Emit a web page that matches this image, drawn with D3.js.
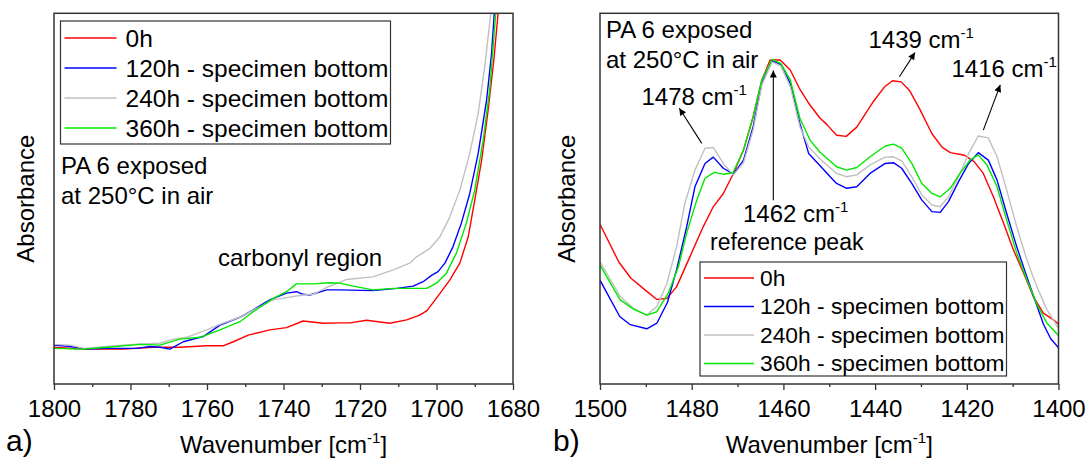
<!DOCTYPE html>
<html>
<head>
<meta charset="utf-8">
<script src="https://cdn.jsdelivr.net/npm/d3@7"></script>
<style>
  html, body { margin: 0; padding: 0; background: #fff; }
  svg { display: block; font-family: "Liberation Sans", Arial, Helvetica, sans-serif; }
</style>
</head>
<body>
<svg id="chart" width="1088" height="460"></svg>
<script>
// ---------- data: FTIR absorbance (arbitrary units), [wavenumber, absorbance] ----------
const seriesLabels = ["0h", "120h - specimen bottom", "240h - specimen bottom", "360h - specimen bottom"];

// a) carbonyl region, 1800-1680 cm-1
const carbonyl0h = [[1800,0.099],[1792.3,0.094],[1781.9,0.094],[1774.1,0.099],[1767.1,0.099],[1760.1,0.103],[1755.8,0.103],[1753.1,0.114],[1749.2,0.132],[1743.6,0.146],[1739.2,0.152],[1734.9,0.170],[1729.6,0.164],[1725.3,0.165],[1722.6,0.165],[1718.3,0.172],[1712.2,0.164],[1707.8,0.173],[1704.4,0.186],[1702.5,0.198],[1700.2,0.229],[1696.5,0.281],[1693.9,0.326],[1691.7,0.397],[1690,0.496],[1688.2,0.604],[1686.5,0.739],[1685,0.874],[1683.9,1.0],[1683,1.1]];
const carbonyl120h = [[1800,0.105],[1795.8,0.101],[1791.5,0.094],[1786.2,0.096],[1778.4,0.096],[1774.9,0.101],[1772.3,0.099],[1769.7,0.094],[1766.2,0.114],[1761,0.128],[1756.6,0.159],[1751.4,0.180],[1747.9,0.200],[1743.6,0.227],[1739.2,0.245],[1736.6,0.249],[1734.9,0.242],[1733.1,0.240],[1728.7,0.254],[1725.3,0.254],[1716.6,0.252],[1710.4,0.258],[1706.1,0.264],[1703.5,0.276],[1701.3,0.293],[1699.6,0.303],[1697.8,0.326],[1695.7,0.370],[1693.5,0.434],[1691.3,0.514],[1689.1,0.622],[1686.9,0.766],[1685.6,0.892],[1684.9,1.0],[1684,1.1]];
const carbonyl240h = [[1800,0.107],[1795.8,0.105],[1792.3,0.096],[1786.2,0.101],[1777.5,0.108],[1772.3,0.110],[1768.8,0.121],[1765.3,0.126],[1760.1,0.146],[1755.8,0.164],[1751.4,0.180],[1747,0.204],[1742.7,0.227],[1739.2,0.233],[1734.9,0.240],[1732.2,0.242],[1728.7,0.261],[1725.3,0.274],[1723.5,0.282],[1716.6,0.289],[1711.3,0.308],[1707,0.326],[1705.2,0.343],[1701.7,0.366],[1699.1,0.397],[1696.5,0.451],[1693.9,0.523],[1691.3,0.622],[1689.1,0.730],[1687.4,0.856],[1685.8,1.0],[1685,1.1]];
const carbonyl360h = [[1800,0.096],[1792.3,0.094],[1786.2,0.099],[1777.5,0.107],[1772.3,0.105],[1767.1,0.121],[1761.8,0.126],[1756.6,0.146],[1751.4,0.168],[1747.9,0.195],[1742.7,0.231],[1739.2,0.249],[1736.6,0.270],[1732.2,0.270],[1727.9,0.273],[1725.3,0.272],[1721.8,0.264],[1716.6,0.254],[1711.3,0.258],[1702.6,0.258],[1700,0.272],[1697.4,0.299],[1694.8,0.353],[1692.2,0.434],[1690,0.523],[1687.8,0.658],[1686.1,0.793],[1684.5,1.0],[1683.5,1.1]];

// b) CH2 bending region, 1500-1400 cm-1
const bending0h = [[1500,0.431],[1495.9,0.329],[1493.3,0.286],[1490.2,0.254],[1487.6,0.228],[1485.4,0.231],[1483.3,0.262],[1480.4,0.343],[1477.5,0.424],[1475.3,0.478],[1473.1,0.514],[1470.9,0.568],[1468.7,0.631],[1466.6,0.721],[1464.7,0.820],[1462.9,0.874],[1460.7,0.874],[1458.5,0.847],[1456.5,0.797],[1454.3,0.754],[1452,0.717],[1450.6,0.701],[1448.4,0.671],[1446.3,0.668],[1444,0.693],[1440.5,0.760],[1437.9,0.802],[1436.2,0.818],[1434.3,0.815],[1432.5,0.792],[1430.2,0.740],[1427.6,0.675],[1425.4,0.639],[1423.6,0.624],[1420.5,0.617],[1418.4,0.600],[1416.4,0.568],[1414.2,0.505],[1412,0.434],[1409.8,0.361],[1407.6,0.299],[1405.5,0.236],[1403.3,0.191],[1401.1,0.173],[1400,0.162]];
const bending120h = [[1500,0.280],[1495.7,0.182],[1493.4,0.160],[1489.8,0.149],[1487.6,0.164],[1485.3,0.220],[1483.3,0.308],[1481.1,0.424],[1479.3,0.532],[1477.1,0.595],[1475.3,0.612],[1473.1,0.582],[1470.9,0.566],[1468.7,0.604],[1466.6,0.694],[1464.7,0.811],[1462.5,0.872],[1460.4,0.861],[1458.5,0.811],[1456.4,0.703],[1454.5,0.622],[1452,0.589],[1449.8,0.559],[1448.4,0.541],[1446.2,0.528],[1444,0.532],[1441.1,0.568],[1437.8,0.595],[1436,0.597],[1434.2,0.582],[1432,0.541],[1429.8,0.496],[1427.6,0.465],[1425.8,0.463],[1424,0.492],[1421.8,0.546],[1419.6,0.595],[1417.5,0.624],[1415.3,0.604],[1413.4,0.550],[1411.3,0.460],[1409.1,0.370],[1406.9,0.289],[1405.1,0.225],[1403.3,0.162],[1401.7,0.122],[1400,0.098]];
const bending240h = [[1500,0.330],[1495.6,0.236],[1492.7,0.204],[1489.8,0.186],[1487.6,0.209],[1485.4,0.272],[1483.3,0.370],[1481.5,0.487],[1479.3,0.577],[1477.1,0.636],[1475.3,0.638],[1473.1,0.595],[1470.9,0.564],[1468.7,0.597],[1466.6,0.685],[1464.7,0.807],[1462.5,0.869],[1460.6,0.858],[1458.5,0.802],[1456.4,0.694],[1454.5,0.640],[1452,0.607],[1448.4,0.568],[1446.2,0.559],[1444,0.564],[1441.1,0.591],[1437.8,0.612],[1436,0.613],[1434.2,0.602],[1432,0.559],[1429.8,0.510],[1427.6,0.483],[1425.8,0.478],[1424,0.505],[1421.8,0.559],[1419.6,0.622],[1417.5,0.669],[1415.3,0.664],[1413.4,0.613],[1411.3,0.523],[1409.1,0.424],[1406.9,0.335],[1404.7,0.262],[1402.5,0.200],[1400,0.150]];
const bending360h = [[1500,0.321],[1495.6,0.227],[1492.7,0.202],[1489.8,0.186],[1487.6,0.195],[1485.1,0.245],[1482.9,0.316],[1481.1,0.407],[1478.9,0.496],[1477.1,0.555],[1475.1,0.571],[1473.1,0.566],[1471,0.570],[1468.7,0.631],[1466.6,0.721],[1464.7,0.820],[1462.5,0.876],[1460.6,0.865],[1458.5,0.820],[1456.4,0.717],[1454.2,0.658],[1452,0.625],[1448.4,0.586],[1446.2,0.577],[1444,0.584],[1441.1,0.613],[1437.8,0.642],[1436,0.647],[1434.2,0.636],[1432,0.595],[1429.8,0.541],[1427.6,0.514],[1425.8,0.505],[1423.6,0.528],[1421.5,0.568],[1419.3,0.604],[1417.5,0.618],[1415.6,0.591],[1413.4,0.532],[1411.3,0.442],[1409.1,0.353],[1406.9,0.281],[1404.7,0.215],[1402.5,0.164],[1400,0.131]];

// axis ticks
const carbonylTicks = [1800, 1780, 1760, 1740, 1720, 1700, 1680];
const carbonylMinor = [1790, 1770, 1750, 1730, 1710, 1690];
const bendingTicks = [1500, 1480, 1460, 1440, 1420, 1400];
const bendingMinor = [1490, 1470, 1450, 1430, 1410];

// ---------- drawing ----------
const svg = d3.select("#chart");
const FONT = 24;
const lineColors = ["#ff0000", "#0000ff", "#c0c0c0", "#00e800"];
const ink = "#000";
const frameColor = "#333";

const defs = svg.append("defs");
defs.append("marker")
  .attr("id", "arrowhead")
  .attr("viewBox", "0 0 10 10")
  .attr("refX", 10).attr("refY", 5)
  .attr("markerUnits", "userSpaceOnUse")
  .attr("markerWidth", 10).attr("markerHeight", 7)
  .attr("orient", "auto")
  .append("path").attr("d", "M0,0 L10,5 L0,10 z").attr("fill", ink);

// text with a raised "-1" exponent; optional trailing text after it
function supText(parent, x, y, main, sup, size, tail, anchor) {
  const t = parent.append("text")
    .attr("x", x).attr("y", y)
    .attr("font-size", size)
    .attr("fill", ink)
    .attr("text-anchor", anchor || "start");
  t.append("tspan").text(main);
  const supSize = Math.round(size * 0.62);
  const lift = size * 0.42;
  t.append("tspan").attr("font-size", supSize).attr("dy", -lift).text(sup);
  if (tail) t.append("tspan").attr("font-size", size).attr("dy", lift).text(tail);
  return t;
}

function drawPanel(cfg) {
  const { left, right, top, bottom } = cfg;
  const x = d3.scaleLinear().domain(cfg.domain).range([left, right]);
  const y = d3.scaleLinear().domain([0, 1]).range([bottom, top]);
  const g = svg.append("g");

  const clipId = "clip-" + cfg.id;
  defs.append("clipPath").attr("id", clipId)
    .append("rect").attr("x", left).attr("y", top)
    .attr("width", right - left).attr("height", bottom - top);

  // spectra
  const line = d3.line().x(d => x(d[0])).y(d => y(d[1]));
  g.append("g").attr("clip-path", `url(#${clipId})`)
    .selectAll("path").data(cfg.series).join("path")
    .attr("d", line)
    .attr("fill", "none")
    .attr("stroke", (d, i) => lineColors[i])
    .attr("stroke-width", 1.4)
    .attr("stroke-linejoin", "round");

  // bottom axis: major ticks with labels, minor ticks without
  const axisMajor = g.append("g").attr("transform", `translate(0,${bottom})`)
    .call(d3.axisBottom(x).tickValues(cfg.ticks).tickSize(6).tickPadding(10)
      .tickSizeOuter(0).tickFormat(d3.format("d")));
  const axisMinor = g.append("g").attr("transform", `translate(0,${bottom})`)
    .call(d3.axisBottom(x).tickValues(cfg.minor).tickSize(3).tickSizeOuter(0).tickFormat(""));
  [axisMajor, axisMinor].forEach(a => {
    a.select(".domain").remove();
    a.selectAll(".tick line").attr("stroke", frameColor).attr("stroke-width", 1.3);
  });
  axisMajor.attr("font-family", null).attr("font-size", null);
  axisMajor.selectAll(".tick text").attr("font-size", FONT).attr("fill", ink);

  // frame
  g.append("rect")
    .attr("x", left).attr("y", top)
    .attr("width", right - left).attr("height", bottom - top)
    .attr("fill", "none").attr("stroke", frameColor).attr("stroke-width", 1.5);

  // axis titles
  g.append("text")
    .attr("transform", `translate(${cfg.yTitleX},${(top + bottom) / 2}) rotate(-90)`)
    .attr("text-anchor", "middle").attr("font-size", FONT).attr("fill", ink)
    .text("Absorbance");
  supText(g, (left + right) / 2, 453, "Wavenumber [cm", "-1", FONT, "]", "middle");

  // panel letter
  g.append("text").attr("x", cfg.letterX).attr("y", 451)
    .attr("font-size", 30).attr("fill", ink).text(cfg.letter);

  // legend
  const L = cfg.legend;
  const lg = g.append("g");
  lg.append("rect")
    .attr("x", L.x).attr("y", L.y).attr("width", L.w).attr("height", L.h)
    .attr("fill", "#fff").attr("stroke", frameColor).attr("stroke-width", 1.2);
  seriesLabels.forEach((name, i) => {
    const cy = L.firstRow + i * L.rowStep;
    lg.append("line")
      .attr("x1", L.x + 4).attr("x2", L.x + 4 + L.sample)
      .attr("y1", cy).attr("y2", cy)
      .attr("stroke", lineColors[i]).attr("stroke-width", 1.4);
    lg.append("text")
      .attr("x", L.x + L.textOffset).attr("y", cy + L.font * 0.35)
      .attr("font-size", L.font).attr("fill", ink).text(name);
  });

  return { g, x, y };
}

// a) carbonyl region
const pa = drawPanel({
  id: "a", left: 54, right: 513, top: 13.3, bottom: 384,
  domain: [1800, 1680],
  series: [carbonyl0h, carbonyl120h, carbonyl240h, carbonyl360h],
  ticks: carbonylTicks, minor: carbonylMinor,
  yTitleX: 34, letter: "a)", letterX: 6,
  legend: { x: 60.5, y: 21, w: 330, h: 123, firstRow: 38, rowStep: 30,
            sample: 52, textOffset: 65, font: 24.5 }
});
pa.g.append("text").attr("x", 61).attr("y", 174).attr("font-size", FONT).attr("fill", ink).text("PA 6 exposed");
pa.g.append("text").attr("x", 61).attr("y", 204).attr("font-size", FONT).attr("fill", ink).text("at 250°C in air");
pa.g.append("text").attr("x", 218).attr("y", 266).attr("font-size", FONT).attr("fill", ink).text("carbonyl region");

// b) CH2 bending region with the 1462 cm-1 reference peak
const pb = drawPanel({
  id: "b", left: 600, right: 1058.5, top: 13.3, bottom: 384,
  domain: [1500, 1400],
  series: [bending0h, bending120h, bending240h, bending360h],
  ticks: bendingTicks, minor: bendingMinor,
  yTitleX: 575, letter: "b)", letterX: 553,
  legend: { x: 700, y: 262, w: 306.5, h: 114, firstRow: 278, rowStep: 28.5,
            sample: 50, textOffset: 60, font: 22.8 }
});
pb.g.append("text").attr("x", 606).attr("y", 38).attr("font-size", FONT).attr("fill", ink).text("PA 6 exposed");
pb.g.append("text").attr("x", 606).attr("y", 68).attr("font-size", FONT).attr("fill", ink).text("at 250°C in air");

supText(pb.g, 641.5, 105, "1478 cm", "-1", FONT);
supText(pb.g, 743, 222, "1462 cm", "-1", FONT);
pb.g.append("text").attr("x", 710).attr("y", 250).attr("font-size", 23).attr("fill", ink).text("reference peak");
supText(pb.g, 868.5, 48, "1439 cm", "-1", FONT);
supText(pb.g, 951.5, 77, "1416 cm", "-1", FONT);

// peak arrows, anchored in wavenumber / absorbance coordinates
const peakArrows = [
  { from: [1477.8, 0.649], to: [1482.7, 0.744] },
  { from: [1462.2, 0.496], to: [1462.2, 0.846] },
  { from: [1434.7, 0.829], to: [1431.3, 0.894] },
  { from: [1416.4, 0.685], to: [1412.7, 0.807] }
];
pb.g.selectAll("line.arrow").data(peakArrows).join("line")
  .attr("class", "arrow")
  .attr("x1", d => pb.x(d.from[0])).attr("y1", d => pb.y(d.from[1]))
  .attr("x2", d => pb.x(d.to[0])).attr("y2", d => pb.y(d.to[1]))
  .attr("stroke", ink).attr("stroke-width", 1.1)
  .attr("marker-end", "url(#arrowhead)");
</script>
</body>
</html>
